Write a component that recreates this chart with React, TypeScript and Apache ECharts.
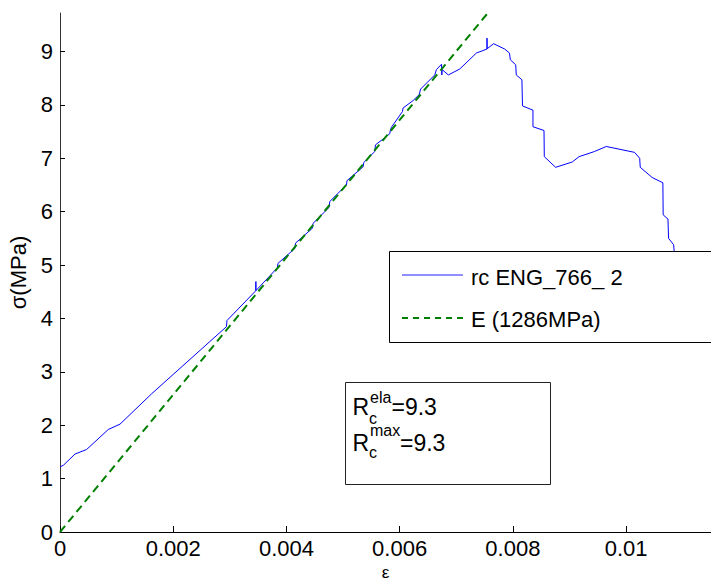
import React, { useEffect, useRef } from "react";
import * as echarts from "echarts";

const FONT = "'Liberation Sans', Arial, Helvetica, sans-serif";

// measured curve "rc ENG_766_ 2" (strain, stress in MPa)
const strainMeasured = [
  0.0, 0.00006, 0.000265, 0.00047, 0.000853, 0.00106, 0.00162, 0.00294, 0.00295,
  0.00346, 0.00346, 0.00346, 0.00371, 0.00384, 0.00385, 0.004148, 0.00416, 0.00446,
  0.00447, 0.004754, 0.004766, 0.00506, 0.00507, 0.005355, 0.005366, 0.00556, 0.005573,
  0.005825, 0.005837, 0.005855, 0.00605, 0.00606, 0.006237, 0.006344, 0.00637, 0.00662,
  0.00665, 0.00674, 0.006745, 0.00675, 0.00686, 0.00706, 0.007356, 0.007543, 0.007543,
  0.007545, 0.00766, 0.007855, 0.00794, 0.007955, 0.00805, 0.00806, 0.00816, 0.00817,
  0.008355, 0.008355, 0.00855, 0.008555, 0.008755, 0.00905, 0.00917, 0.00944, 0.00965,
  0.01015, 0.01024, 0.01025, 0.01046, 0.01065, 0.010655, 0.01074, 0.01075, 0.01084,
  0.01085, 0.0109,
];
const stressMeasured = [
  1.22, 1.25, 1.46, 1.545, 1.92, 2.02, 2.59, 3.845, 3.96,
  4.52, 4.69, 4.52, 4.8, 4.95, 5.03, 5.31, 5.41, 5.69,
  5.78, 6.08, 6.19, 6.5, 6.58, 6.84, 6.92, 7.125, 7.25,
  7.457, 7.53, 7.58, 7.875, 7.94, 8.08, 8.19, 8.295, 8.56,
  8.66, 8.76, 8.56, 8.66, 8.56, 8.67, 8.97, 9.045, 9.25,
  9.05, 9.145, 9.045, 8.97, 8.845, 8.75, 8.56, 8.47, 7.98,
  7.9, 7.59, 7.52, 7.03, 6.83, 6.93, 7.03, 7.125, 7.22,
  7.11, 7.0, 6.83, 6.64, 6.54, 5.94, 5.86, 5.5, 5.38,
  5.25, 4.9,
];

// elastic modulus line E (1286 MPa)
const strainElastic = [0, 0.00755];
const stressElastic = [0, 9.71];

const xTicks = [0, 0.002, 0.004, 0.006, 0.008, 0.01];
const yTicks = [0, 1, 2, 3, 4, 5, 6, 7, 8, 9];

const seriesNames = ["rc ENG_766_ 2", "E (1286MPa)"];
const rcEla = "9.3";
const rcMax = "9.3";

export default function App() {
  const ref = useRef<HTMLDivElement>(null);

  useEffect(() => {
    if (!ref.current) return;
    const chart = echarts.init(ref.current, undefined, { renderer: "svg" });
    const measured = strainMeasured.map((x, i) => [x, stressMeasured[i]]);
    const elastic = strainElastic.map((x, i) => [x, stressElastic[i]]);

    const txt = (text: string, x: number, y: number, size: number, lh?: number) => ({
      type: "text",
      x,
      y,
      z: 10,
      style: {
        text,
        fontSize: size,
        lineHeight: lh ?? size,
        fontFamily: FONT,
        fill: "#000",
        textAlign: "left",
        textVerticalAlign: "middle",
      },
    });

    chart.setOption({
      animation: false,
      backgroundColor: "#fff",
      textStyle: { fontFamily: FONT },
      grid: { left: 60, right: 0, top: 13, bottom: 51, outerBoundsMode: "none" },
      xAxis: {
        type: "value",
        min: 0,
        max: 0.0115,
        name: "ε",
        nameLocation: "middle",
        nameGap: 28,
        nameTextStyle: { fontSize: 17, lineHeight: 17, fontFamily: FONT, color: "#000" },
        axisLine: { show: true, lineStyle: { color: "#000", width: 1 } },
        axisTick: { show: true, inside: true, length: 6, customValues: xTicks, lineStyle: { color: "#000" } },
        axisLabel: { customValues: xTicks, fontSize: 22, fontFamily: FONT, color: "#000", margin: 5 },
        splitLine: { show: false },
      },
      yAxis: {
        type: "value",
        min: 0,
        max: 9.72,
        name: "σ(MPa)",
        nameLocation: "middle",
        nameGap: 19,
        nameTextStyle: { fontSize: 22, lineHeight: 22, fontFamily: FONT, color: "#000" },
        axisLine: { show: true, lineStyle: { color: "#333", width: 1 } },
        axisTick: { show: true, inside: true, length: 5, customValues: yTicks, lineStyle: { color: "#000" } },
        axisLabel: { customValues: yTicks, fontSize: 22, fontFamily: FONT, color: "#000", margin: 7 },
        splitLine: { show: false },
      },
      graphic: [
        {
          type: "rect",
          z: 3,
          shape: { x: 389.5, y: 251.5, width: 400, height: 91 },
          style: { fill: "#fff", stroke: "#000", lineWidth: 1 },
        },
        {
          type: "line",
          z: 10,
          shape: { x1: 402, y1: 275, x2: 463, y2: 275 },
          style: { stroke: "#6a6aff", lineWidth: 1.5 },
        },
        txt(seriesNames[0], 471, 277.5, 22),
        {
          type: "line",
          z: 10,
          shape: { x1: 402, y1: 318, x2: 463, y2: 318 },
          style: { stroke: "#008000", lineWidth: 2, lineDash: [6, 5] },
        },
        txt(seriesNames[1], 471, 319.5, 22),
        {
          type: "rect",
          z: 3,
          shape: { x: 345.5, y: 382.5, width: 205, height: 102 },
          style: { fill: "#fff", stroke: "#222", lineWidth: 1 },
        },
        txt("R", 352.5, 406.5, 23),
        txt("ela", 370, 397.7, 16, 10),
        txt("c", 369, 418.2, 16, 10),
        txt("=" + rcEla, 391.5, 407, 23),
        txt("R", 352.5, 442.5, 23),
        txt("max", 370, 430, 16, 10),
        txt("c", 369, 452.7, 16, 10),
        txt("=" + rcMax, 400, 443, 23),
      ],
      series: [
        {
          name: seriesNames[0],
          type: "line",
          data: measured,
          symbol: "none",
          z: 2,
          lineStyle: { color: "#0000ff", width: 1 },
          itemStyle: { color: "#0000ff" },
        },
        {
          name: seriesNames[1],
          type: "line",
          data: elastic,
          symbol: "none",
          z: 2,
          lineStyle: { color: "#008000", width: 2, type: [8, 5] },
          itemStyle: { color: "#008000" },
        },
      ],
    });
    return () => chart.dispose();
  }, []);

  return (
    <div
      ref={ref}
      style={{ position: "fixed", left: 0, top: 0, width: 711, height: 583, background: "#fff" }}
    />
  );
}
